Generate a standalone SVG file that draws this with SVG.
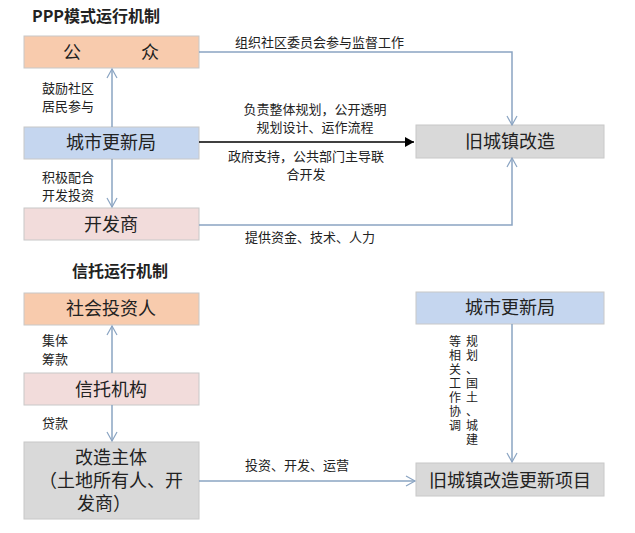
<svg xmlns="http://www.w3.org/2000/svg" width="635" height="533" viewBox="0 0 635 533">
<style>
text{font-family:"Noto Sans CJK SC","Liberation Sans",sans-serif;fill:#222}
.t{font-size:16px;font-weight:bold}
.n{font-size:18px;text-anchor:middle}
.s{font-size:13px}
.c{text-anchor:middle}
.v{font-size:12px;text-anchor:middle}
.ln{stroke:#8aa4c2;stroke-width:1.5;fill:none}
.bx{stroke:#c8c8c8;stroke-width:1}
</style>
<defs>
<marker id="a" markerWidth="12" markerHeight="12" refX="10" refY="6" orient="auto" markerUnits="userSpaceOnUse"><path d="M1,1 L10,6 L1,11" fill="none" stroke="#8aa4c2" stroke-width="1.2"/></marker>
<marker id="b" markerWidth="12" markerHeight="12" refX="10" refY="6" orient="auto" markerUnits="userSpaceOnUse"><path d="M1,1 L10,6 L1,11 z" fill="#000"/></marker>
</defs>
<rect width="635" height="533" fill="#fff"/>
<text class="t" x="32" y="22">PPP模式运行机制</text>
<text class="t" x="72" y="277">信托运行机制</text>
<g id="gongzhong"><rect class="bx" x="24" y="36" width="175" height="32" fill="#f8cbad"/><text class="n" x="111" y="59"><tspan x="72">公</tspan><tspan x="150">众</tspan></text></g>
<g id="chengshi1"><rect class="bx" x="24" y="127" width="175" height="32" fill="#c5d6ef"/><text class="n" x="111" y="149">城市更新局</text></g>
<g id="kaifa"><rect class="bx" x="24" y="208" width="175" height="32" fill="#f2dcdb"/><text class="n" x="111" y="231">开发商</text></g>
<g id="jiucheng"><rect class="bx" x="416" y="125" width="188" height="33" fill="#d9d9d9"/><text class="n" x="510" y="148">旧城镇改造</text></g>
<g id="shehui"><rect class="bx" x="24" y="293" width="175" height="32" fill="#f8cbad"/><text class="n" x="111" y="315">社会投资人</text></g>
<g id="xintuo"><rect class="bx" x="24" y="373" width="175" height="32" fill="#f2dcdb"/><text class="n" x="111" y="396">信托机构</text></g>
<g id="gaizao"><rect class="bx" x="24" y="442" width="175" height="77" fill="#d9d9d9"/><text class="n" x="111" y="464">改造主体</text><text class="n" x="111" y="487">（土地所有人、开</text><text class="n" x="104" y="510">发商）</text></g>
<g id="chengshi2"><rect class="bx" x="416" y="292" width="188" height="32" fill="#c5d6ef"/><text class="n" x="510" y="314">城市更新局</text></g>
<g id="xiangmu"><rect class="bx" x="416" y="463" width="188" height="33" fill="#d9d9d9"/><text class="n" x="510" y="487">旧城镇改造更新项目</text></g>
<g id="connectors">
<path class="ln" d="M199,52 H512 V125" marker-end="url(#a)"/>
<path class="ln" d="M199,225 H512 V158" marker-end="url(#a)"/>
<path d="M199,142 H414" stroke="#000" stroke-width="1.5" marker-end="url(#b)"/>
<path class="ln" d="M112,127 V69" marker-end="url(#a)"/>
<path class="ln" d="M112,159 V207" marker-end="url(#a)"/>
<path class="ln" d="M112,373 V326" marker-end="url(#a)"/>
<path class="ln" d="M112,405 V441" marker-end="url(#a)"/>
<path class="ln" d="M199,481 H415" marker-end="url(#a)"/>
<path class="ln" d="M512,324 V462" marker-end="url(#a)"/>
</g>
<g class="s">
<text x="235" y="47">组织社区委员会参与监督工作</text>
<text x="42" y="93">鼓励社区</text><text x="42" y="111">居民参与</text>
<text class="c" x="315" y="114">负责整体规划，公开透明</text>
<text class="c" x="315" y="132">规划设计、运作流程</text>
<text class="c" x="306" y="161">政府支持，公共部门主导联</text>
<text class="c" x="306" y="179">合开发</text>
<text x="42" y="182">积极配合</text><text x="42" y="200">开发投资</text>
<text x="245" y="242">提供资金、技术、人力</text>
<text x="42" y="345">集体</text><text x="42" y="364">筹款</text>
<text x="42" y="428">贷款</text>
<text x="245" y="470">投资、开发、运营</text>
</g>
<g>
<text x="472" y="346" class="v">规</text><text x="472" y="360" class="v">划</text><text x="472" y="374" class="v">、</text><text x="472" y="388" class="v">国</text><text x="472" y="402" class="v">土</text><text x="472" y="416" class="v">、</text><text x="472" y="430" class="v">城</text><text x="472" y="444" class="v">建</text>
<text x="455" y="346" class="v">等</text><text x="455" y="360" class="v">相</text><text x="455" y="374" class="v">关</text><text x="455" y="388" class="v">工</text><text x="455" y="402" class="v">作</text><text x="455" y="416" class="v">协</text><text x="455" y="430" class="v">调</text>
</g>
</svg>
